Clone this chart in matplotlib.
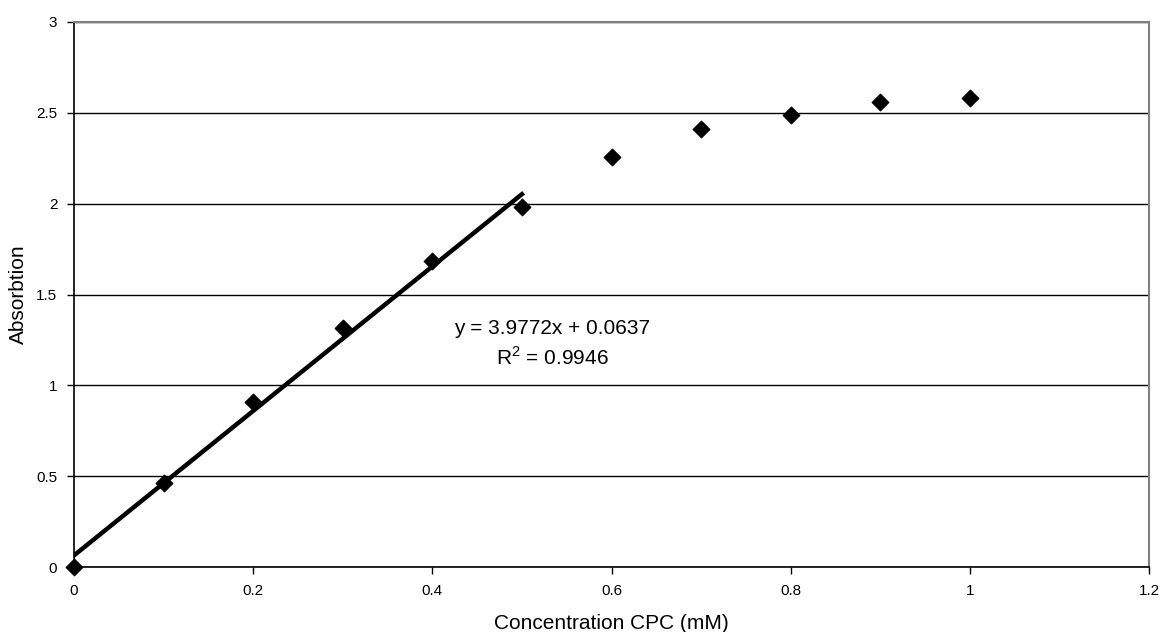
import matplotlib.pyplot as plt
import numpy as np

plt.rcParams['font.family'] = ['Liberation Sans', 'DejaVu Sans']

# Measured data (concentration in mM, absorption)
conc = np.array([0.0, 0.1, 0.2, 0.3, 0.4, 0.5, 0.6, 0.7, 0.8, 0.9, 1.0])
absorb = np.array([0.0, 0.464, 0.91, 1.314, 1.686, 1.98, 2.258, 2.409, 2.488, 2.557, 2.579])

# Linear trend line over the first six points
slope = 3.9772
intercept = 0.0637
fit_x = np.array([0.0, 0.5])
fit_label = "y = 3.9772x + 0.0637\nR$^{\\mathregular{2}}$ = 0.9946"

xticks = [0, 0.2, 0.4, 0.6, 0.8, 1, 1.2]
yticks = [0, 0.5, 1, 1.5, 2, 2.5, 3]

fig = plt.figure(figsize=(11.63, 6.32), dpi=100)
ax = fig.add_axes([0.0636, 0.1028, 0.9244, 0.8624])

ax.plot(fit_x, slope * fit_x + intercept, color='black', lw=3.2, zorder=3)
ax.scatter(conc, absorb, marker='D', s=70, color='black', zorder=4, clip_on=False)

ax.set_xlim(0, 1.2)
ax.set_ylim(0, 3)
ax.set_xticks(xticks)
ax.set_xticklabels(['0', '0.2', '0.4', '0.6', '0.8', '1', '1.2'], fontsize=11)
ax.set_yticks(yticks)
ax.set_yticklabels(['0', '0.5', '1', '1.5', '2', '2.5', '3'], fontsize=11)
ax.tick_params(direction='out', length=5, width=1, color='black', pad=7)

ax.grid(axis='y', color='black', lw=1)
ax.set_axisbelow(True)

for s in ['top', 'right']:
    ax.spines[s].set_color('#808080')
    ax.spines[s].set_linewidth(1.5)
for s in ['left', 'bottom']:
    ax.spines[s].set_color('black')
    ax.spines[s].set_linewidth(1.2)

ax.set_xlabel('Concentration CPC (mM)', fontsize=15, labelpad=12)
ax.set_ylabel('Absorbtion', fontsize=15, labelpad=6)

ax.text(0.5335, 1.23, fit_label, ha='center', va='center', fontsize=15, linespacing=1.45)

plt.savefig('out.png', dpi=100)
